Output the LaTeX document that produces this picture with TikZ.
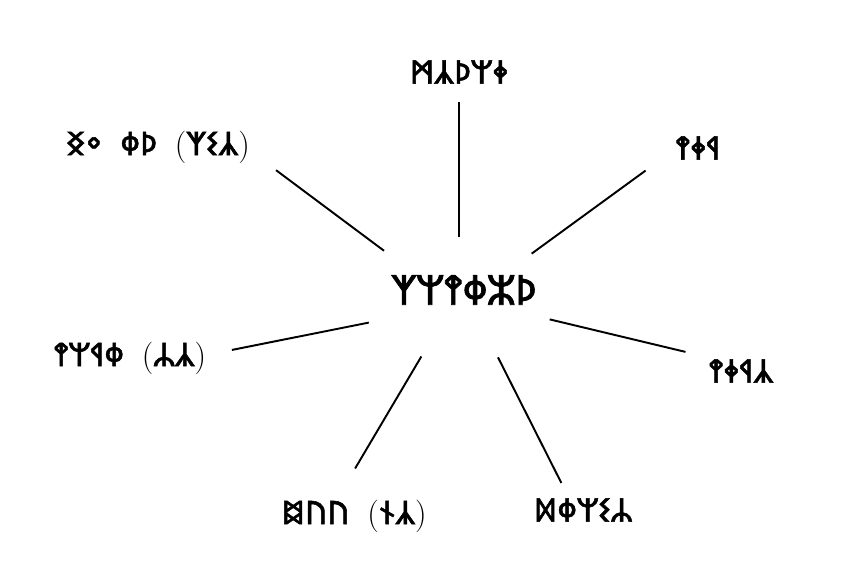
\documentclass[tikz,border=0pt]{standalone}
\usepackage{fontspec}
\newfontfamily\rnc[AutoFakeBold=1.6]{Noto Sans Runic}
\newcommand{\lp}{{\rmfamily\mdseries(}}
\newcommand{\rp}{{\rmfamily\mdseries)}}
\newcommand{\gap}{\hspace{0.55em}}
\tikzset{
  lbl/.style={font=\rnc\bfseries\fontsize{18.5}{20}\selectfont, inner sep=0pt},
  ctrlbl/.style={font=\rnc\bfseries\fontsize{23.5}{25}\selectfont, inner sep=0pt},
  link/.style={line width=1.1pt, black}
}
\begin{document}
\begin{tikzpicture}
\path[fill=white, use as bounding box] (0,0) rectangle (17.18,11.56);
\node[ctrlbl] (ctr) at (9.28,5.76) {ᛉᛘᛳᛰᛯᚦ};
\node[lbl] (top) at (9.18,10.12) {ᛗᛣᚦᛘᛄ};
\node[lbl] (ul) at (3.16,8.62) {ᛝᛜ\gap ᛰᚦ\gap\lp ᛉᛊᛣ\rp};
\node[lbl] (ur) at (13.96,8.60) {ᛳᛄᛩ};
\node[lbl] (l) at (2.60,4.40) {ᛳᛘᛩᛰ\gap\lp ᛦᛣ\rp};
\node[lbl] (r) at (14.82,4.14) {ᛳᛄᛩᛣ};
\node[lbl] (bl) at (7.08,1.24) {ᛥᚢᚢ\gap\lp ᚾᛣ\rp};
\node[lbl] (br) at (11.66,1.36) {ᛞᛰᛘᛊᛦ};
\draw[link, shorten <=30pt, shorten >=10pt] (top.south |- ctr.center) -- (top.south);
\draw[link, shorten <=49.7pt, shorten >=25.5pt] ([shift={(-5.7pt,-7.4pt)}]ctr.center) -- ([shift={(-5.7pt,-7.4pt)}]ul.north east);
\draw[link, shorten <=44.8pt, shorten >=23.7pt] ([shift={(2.3pt,-5.7pt)}]ctr.center) -- ([shift={(2.3pt,-5.7pt)}]ur.north west);
\draw[link, shorten <=57pt, shorten >=13pt] ([shift={(1.7pt,-7.4pt)}]ctr.center) -- ([shift={(1.7pt,-7.4pt)}]l.north east);
\draw[link, shorten <=52.5pt, shorten >=11pt] ([shift={(-2.3pt,-4.5pt)}]ctr.center) -- ([shift={(-2.3pt,1.5pt)}]r.north west);
\draw[link, shorten <=45.7pt, shorten >=18.7pt] ([shift={(-1pt,1.5pt)}]ctr.center) -- ([shift={(-8.9pt,1.5pt)}]bl.north);
\draw[link, shorten <=42.9pt, shorten >=9.6pt] (ctr.center) -- ([xshift=-8pt]br.north);
\end{tikzpicture}
\end{document}
